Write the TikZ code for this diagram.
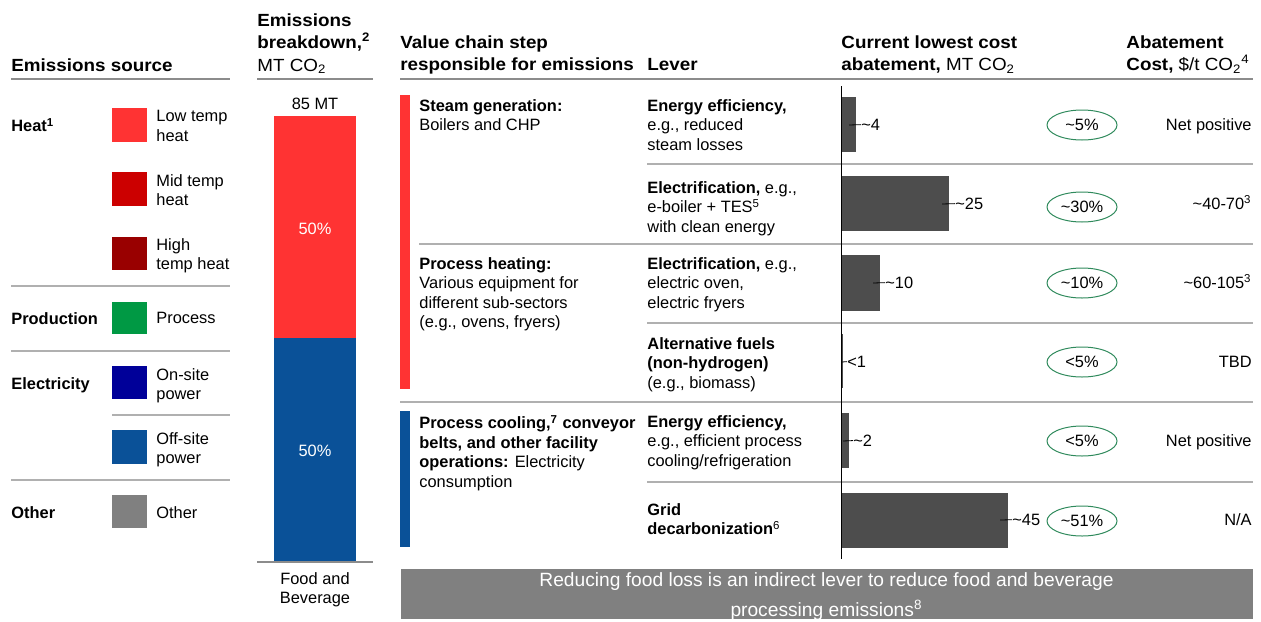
\documentclass[tikz,border=0pt]{standalone}
\usepackage{fontspec}
\setmainfont{Liberation Sans}
\newfontfamily\hdrfont{Liberation Sans}[FakeStretch=1.07]
\usetikzlibrary{shapes.geometric}
\definecolor{lowheat}{HTML}{FF3333}
\definecolor{midheat}{HTML}{CC0000}
\definecolor{highheat}{HTML}{990000}
\definecolor{procgreen}{HTML}{009944}
\definecolor{onsite}{HTML}{000099}
\definecolor{offsite}{HTML}{0A5198}
\definecolor{othergray}{HTML}{808080}
\definecolor{barfill}{HTML}{4D4D4D}
\definecolor{rulegray}{HTML}{8C8C8C}
\definecolor{sepgray}{HTML}{B0B0B0}
\definecolor{pctgreen}{HTML}{2F8A5C}
\begin{document}
\begin{tikzpicture}[x=0.5pt,y=-0.5pt,
    txt/.style={anchor=north west,inner sep=0pt,align=left,font=\fontsize{8.2}{9.75}\selectfont},
    hdr/.style={txt,font=\fontsize{8.8}{11.35}\hdrfont\bfseries},
    val/.style={anchor=mid west,inner sep=0pt,font=\fontsize{8.2}{9.75}\selectfont},
    cost/.style={anchor=mid east,inner sep=0pt,font=\fontsize{8.2}{9.75}\selectfont},
    pct/.style={ellipse,draw=pctgreen,line width=0.5pt,minimum width=35pt,minimum height=15pt,inner sep=0pt,font=\fontsize{8.2}{9.75}\selectfont},
    toprule/.style={draw=rulegray,line width=0.9pt},
    sep/.style={draw=sepgray,line width=0.6pt}]
    \useasboundingbox (0,0) rectangle (1261,621);
    % headers
    \node[hdr] (hsrc) at (11,58) {Emissions source};
    \node[hdr] (hbrk) at (257,13) {Emissions\\breakdown,\textsuperscript{2}\\{\mdseries MT CO\textsubscript{2}}};
    \node[hdr] (hval) at (400,35) {Value chain step\\responsible for emissions};
    \node[hdr] (hlev) at (647,58) {Lever};
    \node[hdr] (hcur) at (841,35) {Current lowest cost\\abatement, {\mdseries MT CO\textsubscript{2}}};
    \node[hdr] (hcost) at (1126,35) {Abatement\\Cost, {\mdseries \$/t CO\textsubscript{2}\textsuperscript{4}}};
    \draw[toprule] (11,79) -- (230,79);
    \draw[toprule] (257,79) -- (373,79);
    \draw[toprule] (400,79) -- (1253,79);

    % legend
    \node[txt,font=\fontsize{8.2}{9.75}\selectfont\bfseries] (gheat) at (11,118) {Heat\textsuperscript{1}};
    \node[txt,font=\fontsize{8.2}{9.75}\selectfont\bfseries] (gprod) at (11,312) {Production};
    \node[txt,font=\fontsize{8.2}{9.75}\selectfont\bfseries] (gelec) at (11,377) {Electricity};
    \node[txt,font=\fontsize{8.2}{9.75}\selectfont\bfseries] (goth) at (11,506) {Other};
    \fill[lowheat] (112,108) rectangle (147,142);
    \fill[midheat] (112,172) rectangle (147,206);
    \fill[highheat] (112,237) rectangle (147,270);
    \fill[procgreen] (112,302) rectangle (147,334);
    \fill[onsite] (112,366) rectangle (147,399);
    \fill[offsite] (112,430) rectangle (147,464);
    \fill[othergray] (112,495) rectangle (147,528);
    \node[txt] (llow) at (156,110) {Low temp\\heat};
    \node[txt] (lmid) at (156,174) {Mid temp\\heat};
    \node[txt] (lhigh) at (156,238) {High\\temp heat};
    \node[txt] (lproc) at (156,312) {Process};
    \node[txt] (lon) at (156,368) {On-site\\power};
    \node[txt] (loff) at (156,432) {Off-site\\power};
    \node[txt] (loth) at (156,506) {Other};
    \draw[sep] (11,286) -- (230,286);
    \draw[sep] (11,351) -- (230,351);
    \draw[sep] (112,415) -- (230,415);
    \draw[sep] (11,480) -- (230,480);

    % breakdown bar
    \fill[lowheat] (274,116) rectangle (356,338);
    \fill[offsite] (274,338) rectangle (356,562);
    \node[anchor=base,inner sep=0pt,font=\fontsize{8.2}{9.75}\selectfont] (total) at (315,109) {85 MT};
    \node[text=white,inner sep=0pt,font=\fontsize{8.2}{9.75}\selectfont] (pheat) at (315,229) {50\%};
    \node[text=white,inner sep=0pt,font=\fontsize{8.2}{9.75}\selectfont] (pelec) at (315,451) {50\%};
    \draw[toprule] (257,562) -- (373,562);
    \node[txt,anchor=north,align=center] (fb) at (315,572) {Food and\\Beverage};

    % value chain steps
    \fill[lowheat] (400,95) rectangle (410,389);
    \fill[offsite] (400,411) rectangle (410,547);
    \node[txt] (steam) at (419,99) {\textbf{Steam generation:}\\Boilers and CHP};
    \node[txt] (pheating) at (419,257) {\textbf{Process heating:}\\Various equipment for\\different sub-sectors\\(e.g., ovens, fryers)};
    \node[txt] (pcool) at (419,415) {\textbf{Process cooling,\textsuperscript{7} conveyor}\\\textbf{belts, and other facility}\\\textbf{operations:} Electricity\\consumption};

    % levers
    \node[txt] (lev1) at (647,99) {\textbf{Energy efficiency,}\\e.g., reduced\\steam losses};
    \node[txt] (lev2) at (647,181) {\textbf{Electrification,} e.g.,\\e-boiler + TES\textsuperscript{5}\\with clean energy};
    \node[txt] (lev3) at (647,257) {\textbf{Electrification,} e.g.,\\electric oven,\\electric fryers};
    \node[txt] (lev4) at (647,337) {\textbf{Alternative fuels}\\\textbf{(non-hydrogen)}\\(e.g., biomass)};
    \node[txt] (lev5) at (647,415) {\textbf{Energy efficiency,}\\e.g., efficient process\\cooling/refrigeration};
    \node[txt] (lev6) at (647,503) {\textbf{Grid}\\\textbf{decarbonization}\textsuperscript{6}};
    \draw[sep] (647,164) -- (1253,164);
    \draw[sep] (419,244) -- (1253,244);
    \draw[sep] (647,323) -- (1253,323);
    \draw[sep] (400,402) -- (1253,402);
    \draw[sep] (647,482) -- (1253,482);

    % abatement bars
    \fill[barfill] (841,97) rectangle (856,152);
    \fill[barfill] (841,176) rectangle (949,231);
    \fill[barfill] (841,255) rectangle (880,311);
    \fill[barfill] (841,334) rectangle (843,388);
    \fill[barfill] (841,413) rectangle (848.5,468);
    \fill[barfill] (841,493) rectangle (1008,548);
    \draw[line width=0.5pt] (841.7,86) -- (841.7,559);
    \coordinate (t1) at (849,125);
    \coordinate (t2) at (942,204);
    \coordinate (t3) at (873,283);
    \coordinate (t4) at (842,362);
    \coordinate (t5) at (843,441);
    \coordinate (t6) at (1000,520);
    \node[val] (v1) at (861,125) {\textasciitilde 4};
    \node[val] (v2) at (955,204) {\textasciitilde 25};
    \node[val] (v3) at (885,283) {\textasciitilde 10};
    \node[val] (v4) at (847,362) {<1};
    \node[val] (v5) at (853,441) {\textasciitilde 2};
    \node[val] (v6) at (1012,520) {\textasciitilde 45};
    \draw[line width=0.4pt] (t1) -- (v1.west);
    \draw[line width=0.4pt] (t2) -- (v2.west);
    \draw[line width=0.4pt] (t3) -- (v3.west);
    \draw[line width=0.4pt] (t4) -- (v4.west);
    \draw[line width=0.4pt] (t5) -- (v5.west);
    \draw[line width=0.4pt] (t6) -- (v6.west);

    % shares
    \node[pct] (s1) at (1082,125) {\textasciitilde 5\%};
    \node[pct] (s2) at (1082,207) {\textasciitilde 30\%};
    \node[pct] (s3) at (1082,283) {\textasciitilde 10\%};
    \node[pct] (s4) at (1082,362) {<5\%};
    \node[pct] (s5) at (1082,441) {<5\%};
    \node[pct] (s6) at (1082,521) {\textasciitilde 51\%};

    % abatement cost
    \node[cost] (c1) at (1252,125) {Net positive};
    \node[cost] (c2) at (1252,204) {\textasciitilde 40-70\textsuperscript{3}};
    \node[cost] (c3) at (1252,283) {\textasciitilde 60-105\textsuperscript{3}};
    \node[cost] (c4) at (1252,362) {TBD};
    \node[cost] (c5) at (1252,441) {Net positive};
    \node[cost] (c6) at (1252,520) {N/A};

    % food loss banner
    \fill[othergray] (401,569) rectangle (1253,619);
    \node[text=white,anchor=north,inner sep=0pt,align=center,font=\fontsize{9.6}{15}\selectfont] (banner) at (826.5,572)
        {Reducing food loss is an indirect lever to reduce food and beverage\\processing emissions\textsuperscript{8}};
\end{tikzpicture}
\end{document}
